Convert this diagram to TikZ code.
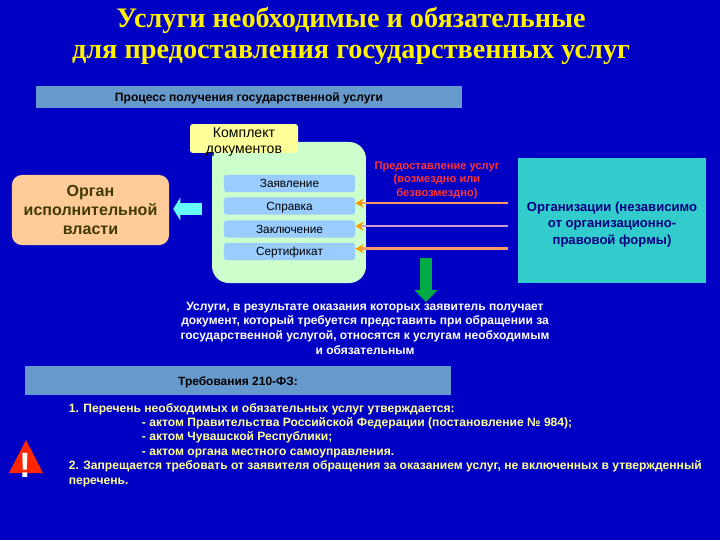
\documentclass[tikz,border=0pt]{standalone}
\usepackage{fontspec}
\setmainfont{Liberation Sans}
\newfontfamily\titlefont{Liberation Serif}
\usetikzlibrary{arrows.meta}
\definecolor{fundo}{HTML}{0000C4}
\definecolor{barra}{HTML}{6699CC}
\definecolor{item}{HTML}{99CCFF}
\definecolor{pacote}{HTML}{CCFFCC}
\definecolor{laranja}{HTML}{FFCC99}
\definecolor{amarelo}{HTML}{FFFF99}
\definecolor{turquesa}{HTML}{33CCCC}
\definecolor{salmao}{HTML}{FF9966}
\definecolor{lilas}{HTML}{CC99CC}
\definecolor{ciano}{HTML}{66FFFF}
\definecolor{verde}{HTML}{00AA44}
\definecolor{oliva}{HTML}{403A00}
\tikzset{
  barbox/.style={fill=barra,text=black,minimum width=#1,minimum height=15.6pt,inner sep=0pt,text height=6.4pt,text depth=0pt},
  itembox/.style={fill=item,rounded corners=2pt,text=black,minimum width=93.2pt,minimum height=12.4pt,inner sep=0pt,text height=6pt,text depth=0pt,font=\fontsize{8.4}{9}\selectfont},
  offerarrow/.style={line width=#1,shorten <=7pt,-{Stealth[color=orange!80!yellow,length=6pt,width=6.5pt]}},
  blockarrow/.style={line width=8.5pt,-{Triangle[length=#1,width=16pt]}}
}
\begin{document}
\begin{tikzpicture}[x=0.025cm,y=-0.025cm]
  \fill[fundo] (0,0) rectangle (720,540);
  \useasboundingbox (0,0) rectangle (720,540);

  % Заголовок
  \node[text=yellow,align=center,font=\titlefont\bfseries\fontsize{20.1}{21.8}\selectfont] (Titulo) at (351,36)
    {Услуги необходимые и обязательные\\для предоставления государственных услуг};
  \node[barbox=303pt,font=\bfseries\fontsize{8.6}{9}\selectfont] (Processo) at (249,97) {Процесс получения государственной услуги};

  % Комплект
  \node[fill=pacote,rounded corners=12pt,minimum width=109.5pt,minimum height=100.3pt,inner sep=0pt] (Pacote) at (289,212.5) {};
  \node[fill=amarelo,rounded corners=2pt,text=black,align=center,minimum width=76.8pt,minimum height=20.6pt,inner xsep=0pt,inner ysep=-3pt,font=\fontsize{10}{11.4}\selectfont] (Komplekt) at (244,138.5)
    {\rule{0pt}{12pt}Комплект\\документов};
  \node[itembox] (Zayavlenie) at (289.5,183.5) {Заявление};
  \node[itembox] (Spravka) at (289.5,206) {Справка};
  \node[itembox] (Zaklyuchenie) at (289.5,229) {Заключение};
  \node[itembox] (Sertifikat) at (289.5,251.5) {Сертификат};

  % Орган
  \node[fill=laranja,rounded corners=7pt,text=oliva,align=center,minimum width=111.7pt,minimum height=49.8pt,inner sep=0pt,font=\bfseries\fontsize{11.4}{13.8}\selectfont] (Orgao) at (90.5,210)
    {Орган\\исполнительной\\власти};
  \coordinate (SetaInicio) at (202,209);
  \draw[blockarrow=5pt,draw=ciano,shorten >=2.8pt] (SetaInicio) to (SetaInicio -| Orgao.east);

  % Организации
  \node[fill=turquesa,text=blue!50!black,align=center,minimum width=133.7pt,minimum height=88.9pt,inner sep=0pt,font=\bfseries\fontsize{9.3}{11.7}\selectfont] (Organizacoes) at (612,220.5)
    {\rule{0pt}{12pt}Организации (независимо\\от организационно-\\правовой формы)};
  \node[text=red!80!white,align=center,inner sep=0pt,font=\bfseries\fontsize{7.9}{9.6}\selectfont] (Oferta) at (437,180)
    {Предоставление услуг\\(возмездно или\\безвозмездно)};
  \draw[offerarrow=1.4pt,draw=salmao] ([yshift=2pt]Organizacoes.west |- Spravka.east) to ([yshift=2pt]Spravka.east);
  \draw[offerarrow=1.4pt,draw=lilas] ([yshift=2pt]Organizacoes.west |- Zaklyuchenie.east) to ([yshift=2pt]Zaklyuchenie.east);
  \draw[offerarrow=2pt,draw=salmao] ([yshift=2pt]Organizacoes.west |- Sertifikat.east) to ([yshift=2pt]Sertifikat.east);

  % Услуги
  \node[text=white,align=center,inner sep=0pt,font=\bfseries\fontsize{8.55}{10.4}\selectfont] (Servicos) at (365,328)
    {Услуги, в результате оказания которых заявитель получает\\документ, который требуется представить при обращении за\\государственной услугой, относятся к услугам необходимым\\и обязательным};
  \coordinate (SetaVerde) at (426,258);
  \draw[blockarrow=8.5pt,draw=verde] (SetaVerde) to (426,302);

  % Требования
  \node[barbox=303pt,minimum height=20.6pt,font=\bfseries\fontsize{8.5}{9}\selectfont] (Requisitos) at (238,380.5) {Требования 210-ФЗ:};
  \node[text=amarelo,anchor=north west,align=left,inner sep=0pt,font=\bfseries\fontsize{8.6}{10.25}\selectfont] (Lista) at (68.5,403)
    {1. Перечень необходимых и обязательных услуг утверждается:\\
     \hspace*{52pt}- актом Правительства Российской Федерации (постановление №~984);\\
     \hspace*{52pt}- актом Чувашской Республики;\\
     \hspace*{52pt}- актом органа местного самоуправления.\\
     2. Запрещается требовать от заявителя обращения за оказанием услуг, не включенных в утвержденный\\
     перечень.};

  % Внимание
  \fill[red!85!yellow] (26,440) -- (43,473) -- (9,473) -- cycle;
  \node[text=white,inner sep=0pt,font=\bfseries\fontsize{25}{25}\selectfont] (Alerta) at (25.5,465) {!};
\end{tikzpicture}
\end{document}
